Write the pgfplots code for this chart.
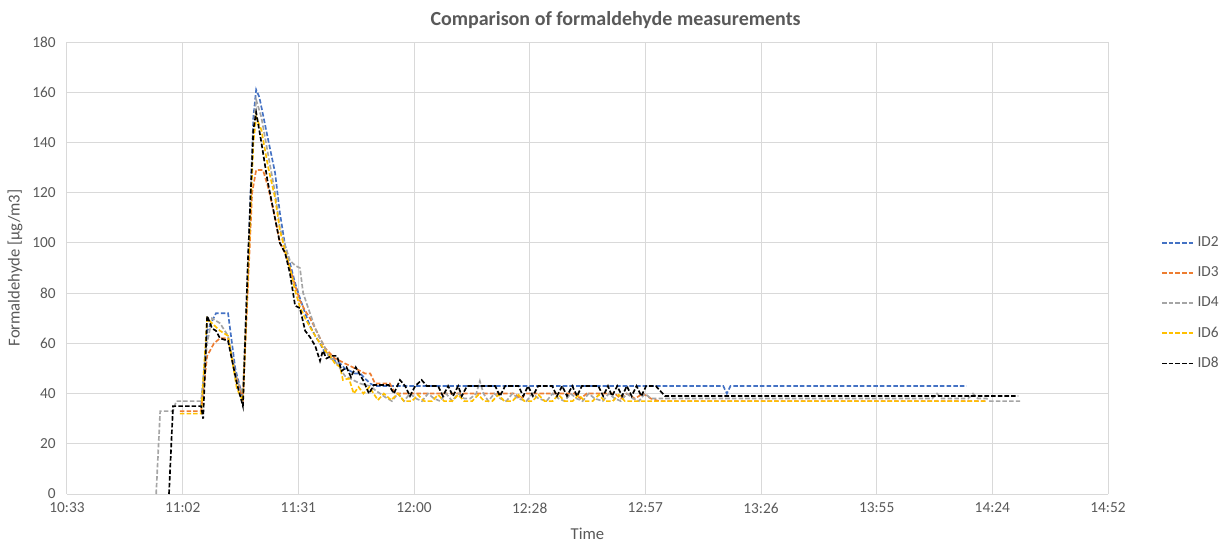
\documentclass[border=0pt]{standalone}
\usepackage{fontspec}
\setmainfont{Carlito}
\usepackage{pgfplots}
\pgfplotsset{compat=1.18}
\definecolor{cID2}{HTML}{4472C4}
\definecolor{cID3}{HTML}{ED7D31}
\definecolor{cID4}{HTML}{A5A5A5}
\definecolor{cID6}{HTML}{FFC000}
\definecolor{cID8}{HTML}{000000}
\definecolor{txtgray}{HTML}{595959}
\definecolor{gridgray}{HTML}{D9D9D9}
\begin{document}
\begin{tikzpicture}
\path[use as bounding box] (-50.25pt,-37.5pt) rectangle (867.75pt,370.5pt);
\begin{axis}[
  scale only axis,
  width=780.75pt, height=339pt,
  at={(0,0)}, anchor=south west,
  xmin=633.6, xmax=892.8, ymin=0, ymax=180,
  xtick={633.6,662.4,691.2,720,748.8,777.6,806.4,835.2,864,892.8},
  xticklabels={10:33,11:02,11:31,12:00,12:28,12:57,13:26,13:55,14:24,14:52},
  ytick={0,20,...,180},
  /pgf/number format/assume math mode=true,
  tick label style={font=\fontsize{11.5}{13}\selectfont, text=txtgray},
  major tick length=0pt,
  xtick style={draw=none}, ytick style={draw=none},
  xmajorgrids, ymajorgrids,
  grid style={gridgray, line width=0.75pt},
  axis line style={draw=none},
  title={Comparison of formaldehyde measurements},
  title style={font=\fontsize{15}{17}\selectfont\bfseries, text=txtgray, at={(0.527,1.03)}, anchor=center},
  xlabel={Time},
  xlabel style={font=\fontsize{12.5}{14}\selectfont, text=txtgray, at={(0.5,-0.088)}, anchor=center},
  ylabel={Formaldehyde [µg/m3]},
  ylabel style={font=\fontsize{12.5}{14}\selectfont, text=txtgray, at={(-0.05,0.5)}, anchor=center},
  xticklabel style={yshift=-3pt},
  yticklabel style={xshift=-5pt},
  legend style={at={(1.047,0.422)}, anchor=west, draw=none, fill=none,
    font=\fontsize{11.5}{13}\selectfont, row sep=9.6pt,
    legend cell align=left},
  legend image code/.code={\draw[#1] (0pt,0pt) -- (24pt,0pt);},
  every axis plot/.append style={line width=1.25pt, dash pattern=on 3.4pt off 1.6pt, mark=none},
]
\addplot[color=cID2] coordinates {(667,35)(668.5,65)(670.7,72)(673.7,72)(675.5,50)(677.4,38)(680.0,150)(680.7,161)(681.5,158)(683.7,141)(685.4,128)(686.6,112)(687.9,99)(689.1,92)(690.4,84)(691.6,78)(692.9,72)(694.1,67)(695.4,63)(696.6,60)(697.9,56)(699.1,55)(700.3,53)(701.6,52)(702.8,50)(704.1,49)(705.3,48)(706.6,48)(707.8,46)(709.1,44)(710.3,43)(797.0,43)(797.9,40)(798.8,43)(857.6,43)};
\addlegendentry{\textcolor{txtgray}{ID2}}
\addplot[color=cID3] coordinates {(661.7,33)(667,33)(668.5,55)(670.2,60)(671.7,62)(673.7,62)(675.5,48)(677.4,38)(679.7,120)(680.7,129)(682.4,129)(683.7,122)(685.4,110)(686.6,100)(687.9,96)(689.1,90)(690.4,83)(691.6,77)(692.9,73)(694.1,70)(695.4,66)(696.6,62)(697.9,58)(699.1,56)(700.3,54)(701.6,53)(702.8,52)(704.1,51)(705.3,50)(706.6,49)(707.8,48)(709.1,48)(710.3,44)(714.0,44)(715.3,40)(745,40)(746.5,38)(748,40)(760,40)(761.5,38)(763,40)(770,40)(771.5,38)(773,40)(775,38)(777,40)(779,38)(781,37)(862.6,37)};
\addlegendentry{\textcolor{txtgray}{ID3}}
\addplot[color=cID4] coordinates {(655.8,0)(656.8,33)(660.0,33)(660.8,37)(667.0,37)(668.5,60)(669.7,70)(671.7,68)(673.7,63)(675.9,45)(677.4,40)(680.0,145)(680.7,157)(682.0,150)(683.7,135)(685.4,120)(686.6,106)(687.9,99)(689.1,93)(690.4,91)(691.6,90)(692.4,80)(694.1,72)(695.4,66)(696.6,62)(697.9,58)(699.1,54)(700.3,53)(701.6,50)(702.8,47)(704.1,46)(705.3,45)(706.6,44)(707.8,43.4)(709.1,43)(710.3,41.4)(712.8,38.6)(714.5,37)(716,40)(717.5,37)(719,40)(720.5,38)(722,37)(723.5,40)(725,38)(726.5,37)(728,40)(729.5,37)(731,40)(732.5,38)(734,38)(735.5,40)(736.4,45)(737.3,40)(738.5,37)(740,40)(741.5,38)(743,37)(744.5,40)(746,38)(748,37)(749.5,40)(751,38)(753,37)(754.5,40)(756,38)(757.5,37)(759,40)(760.5,38)(762,37)(763.5,40)(765,38)(767,37)(768.5,40)(770,38)(771.5,37)(773,40)(774.5,38)(776,37)(777.5,40)(779,38)(849,38)(850.2,40)(851.4,38)(858,38)(859.2,40)(860.4,38)(862.6,38)(863.4,37)(870.9,37)};
\addlegendentry{\textcolor{txtgray}{ID4}}
\addplot[color=cID6] coordinates {(661.7,32)(667.0,32)(668.5,70)(669.7,68)(671.7,65)(673.7,63)(675.9,42)(677.4,37)(680.0,140)(680.7,150)(682.0,145)(683.7,130)(685.4,118)(686.6,105)(687.9,97)(689.1,90)(690.4,81)(691.6,74.5)(692.9,70)(694.1,66.5)(695.4,63)(696.6,60)(697.9,57)(699.1,55)(700.3,52)(701.6,50.6)(702.3,45.4)(703.8,46)(705.0,40)(706.2,42.6)(707.4,40)(708.9,42.6)(711.0,37.4)(712.5,40)(714.3,37.4)(716.0,40)(717.5,37)(719.5,37)(721,39.5)(722.5,37)(724.5,37)(726,39.5)(727.5,37)(729.5,37)(731,39.5)(732.5,37)(734.5,37)(736,39.5)(737.5,37)(739.5,37)(741,39.5)(742.5,37)(744.5,37)(746,39.5)(747.5,37)(749.5,37)(751,39.5)(752.5,37)(754.5,37)(756,39.5)(757.5,37)(759.5,37)(761,39.5)(762.5,37)(764.5,37)(766,39.5)(767.5,37)(769.5,37)(771,39.5)(772.5,37)(862.6,37)};
\addlegendentry{\textcolor{txtgray}{ID6}}
\addplot[color=cID8] coordinates {(659.0,0)(660.0,35)(667.0,35)(667.5,30)(668.5,71)(669.7,66)(670.7,65)(671.7,62)(673.7,61)(675.9,44)(677.4,35)(678.7,95)(680.0,145)(680.7,152)(682.0,140)(683.5,125)(685.0,113)(686.6,100)(687.9,96)(689.1,88)(690.4,75)(691.6,74)(692.9,65)(694.1,62.5)(695.4,59)(696.6,53)(697.3,57)(698.2,54)(699.5,55)(700.8,55)(702.0,49)(703.2,50.5)(704.3,46.6)(705.5,50.5)(707.3,45.4)(708.8,40)(710.0,43.4)(713.7,43.4)(715.0,40)(716.5,45.4)(717.8,43)(719.0,39)(720.3,43)(721.9,45.4)(723.2,43)(726.0,43)(727.2,39)(728.5,43)(729.7,39)(731.0,43)(731.9,39)(733.2,43)(740.2,43)(741.4,39)(742.7,43)(746.0,43)(747.2,39)(748.4,43)(749.6,39)(750.9,43)(754.4,43)(755.6,39)(756.9,43)(758.1,39)(759.4,43)(760.6,39)(761.8,43)(765.9,43)(767.1,39)(768.3,43)(769.3,39)(770.6,43)(771.8,39)(773.0,43)(774.2,39)(775.4,43)(776.6,39)(777.8,43)(780.2,43)(782.5,39)(870.4,39)};
\addlegendentry{\textcolor{txtgray}{ID8}}
\end{axis}
\end{tikzpicture}
\end{document}
